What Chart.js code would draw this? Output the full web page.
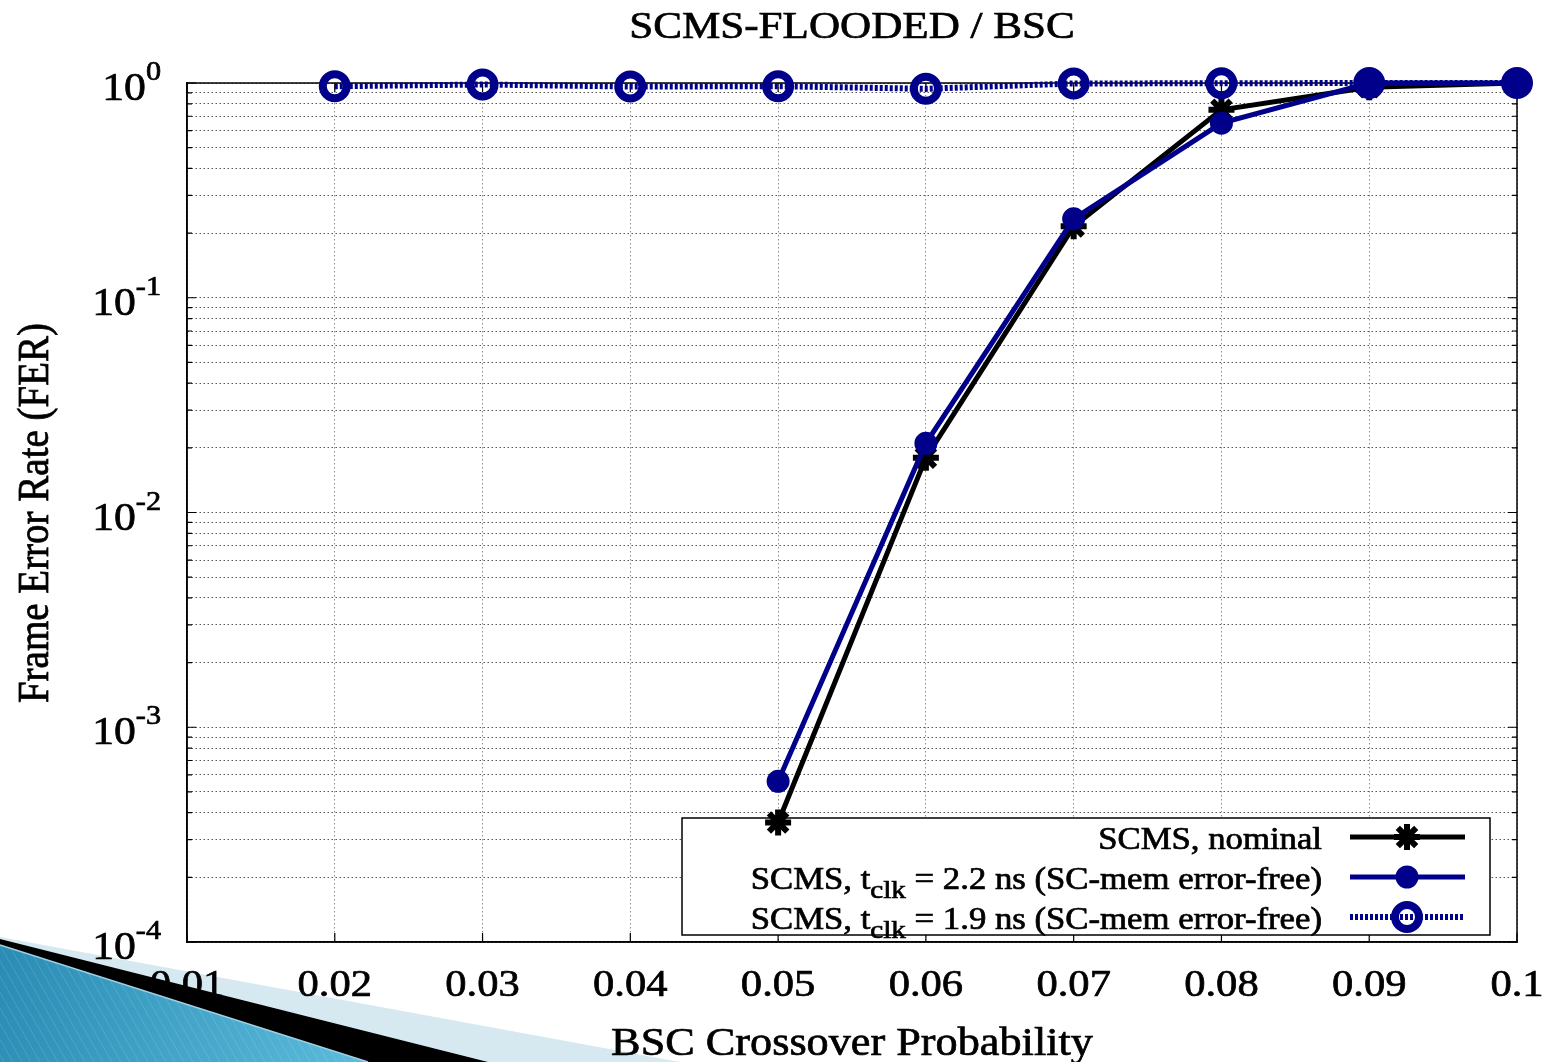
<!DOCTYPE html>
<html>
<head>
<meta charset="utf-8">
<title>SCMS-FLOODED / BSC</title>
<script src="https://cdn.jsdelivr.net/npm/chart.js@4.4.1/dist/chart.umd.min.js"></script>
<style>
  html, body { margin: 0; padding: 0; background: #fff; }
  #wrap { position: relative; width: 1553px; height: 1062px; }
</style>
</head>
<body>
<div id="wrap"><canvas id="ferChart" width="1553" height="1062"></canvas></div>
<script>
// --- donnees ---
const crossover = [0.02, 0.03, 0.04, 0.05, 0.06, 0.07, 0.08, 0.09, 0.1];
const ferNominal = [null, null, null, 3.6e-4, 0.018, 0.215, 0.75, 0.955, 1.0];
const ferClk22 = [null, null, null, 5.6e-4, 0.021, 0.233, 0.65, 1.0, 1.0];
const ferClk19 = [0.966, 0.984, 0.963, 0.966, 0.94, 0.995, 0.997, 1.0, 1.0];

const xTicks = [0.01, 0.02, 0.03, 0.04, 0.05, 0.06, 0.07, 0.08, 0.09, 0.1];
const xTickLabels = ['0.01', '0.02', '0.03', '0.04', '0.05', '0.06', '0.07', '0.08', '0.09', '0.1'];
const yDecades = [0, -1, -2, -3, -4];

const legendLabels = [
  ['SCMS, nominal'],
  ['SCMS, t', 'clk', ' = 2.2 ns (SC-mem error-free)'],
  ['SCMS, t', 'clk', ' = 1.9 ns (SC-mem error-free)']
];

const BLUE = '#00008b';
const SERIF = '"Liberation Serif", "DejaVu Serif", serif';
const SX = 1.12; // la figure d'origine est un peu etiree en largeur

function toPoints(values) {
  const pts = [];
  values.forEach((v, i) => { if (v !== null) pts.push({ x: crossover[i], y: v }); });
  return pts;
}

function textWidth(ctx, s, size) {
  ctx.font = size + 'px ' + SERIF;
  return ctx.measureText(s).width * SX;
}

function drawText(ctx, s, x, y, size, align) {
  ctx.save();
  ctx.font = size + 'px ' + SERIF;
  ctx.textAlign = align || 'left';
  ctx.textBaseline = 'alphabetic';
  ctx.fillStyle = '#000';
  ctx.strokeStyle = '#000';
  ctx.lineWidth = 0.7;
  ctx.translate(x, y);
  ctx.scale(SX, 1);
  ctx.fillText(s, 0, 0);
  ctx.strokeText(s, 0, 0);
  ctx.restore();
}

// decor de diapo en bas a gauche
function slideBack(ctx) {
  ctx.save();
  ctx.fillStyle = '#d6e9f1';
  ctx.beginPath();
  ctx.moveTo(0, 937); ctx.lineTo(680, 1062); ctx.lineTo(0, 1062);
  ctx.closePath(); ctx.fill();
  ctx.restore();
}

function slideFront(ctx) {
  ctx.save();
  ctx.fillStyle = '#000';
  ctx.beginPath();
  ctx.moveTo(0, 939); ctx.lineTo(488, 1062); ctx.lineTo(0, 1062);
  ctx.closePath(); ctx.fill();

  const g = ctx.createLinearGradient(0, 950, 370, 1062);
  g.addColorStop(0, '#2a8cb4');
  g.addColorStop(1, '#5cbcdc');
  ctx.fillStyle = g;
  ctx.beginPath();
  ctx.moveTo(0, 945); ctx.lineTo(368, 1062); ctx.lineTo(0, 1062);
  ctx.closePath(); ctx.fill();
  ctx.clip();
  ctx.strokeStyle = 'rgba(255,255,255,0.13)';
  ctx.lineWidth = 1;
  for (let x = -120; x < 400; x += 9) {
    ctx.beginPath(); ctx.moveTo(x, 940); ctx.lineTo(x + 70, 1062); ctx.stroke();
  }
  ctx.restore();

  ctx.save();
  ctx.strokeStyle = '#9fd2e5';
  ctx.lineWidth = 1.5;
  ctx.beginPath(); ctx.moveTo(0, 945); ctx.lineTo(368, 1062); ctx.stroke();
  ctx.restore();
}

const figurePlugin = {
  id: 'figure',
  beforeDraw(chart) {
    const ctx = chart.ctx;
    ctx.save();
    ctx.fillStyle = '#fff';
    ctx.fillRect(0, 0, chart.width, chart.height);
    ctx.restore();
    slideBack(ctx);
  },
  beforeDatasetsDraw(chart) {
    const ctx = chart.ctx;
    const a = chart.chartArea;
    const ys = chart.scales.y, xs = chart.scales.x;

    // cadre + graduations vers l'interieur
    ctx.save();
    ctx.strokeStyle = '#000';
    ctx.lineWidth = 1.5;
    ctx.strokeRect(a.left, a.top, a.right - a.left, a.bottom - a.top);
    ctx.lineWidth = 1.2;
    ys.ticks.forEach(t => {
      const y = ys.getPixelForValue(t.value);
      const m = Math.round(t.value / Math.pow(10, Math.floor(Math.log10(t.value) + 1e-9)));
      const len = m === 1 ? 9 : 5;
      ctx.beginPath();
      ctx.moveTo(a.left, y); ctx.lineTo(a.left + len, y);
      ctx.moveTo(a.right, y); ctx.lineTo(a.right - len, y);
      ctx.stroke();
    });
    xTicks.forEach(v => {
      const x = xs.getPixelForValue(v);
      ctx.beginPath();
      ctx.moveTo(x, a.bottom); ctx.lineTo(x, a.bottom - 9);
      ctx.moveTo(x, a.top); ctx.lineTo(x, a.top + 9);
      ctx.stroke();
    });
    ctx.restore();

    // cadre de la legende
    ctx.save();
    ctx.fillStyle = '#fff';
    ctx.fillRect(682, 818, 808, 117);
    ctx.strokeStyle = '#000';
    ctx.lineWidth = 1.5;
    ctx.strokeRect(682, 818, 808, 117);
    ctx.restore();

    const rows = [837, 877, 917];
    chart.data.datasets.forEach((ds, i) => {
      const y = rows[i];
      const parts = legendLabels[i];
      // texte aligne a droite, avec indice "clk"
      let total = textWidth(ctx, parts[0], 31);
      if (parts.length > 1) total += textWidth(ctx, parts[1], 26) + textWidth(ctx, parts[2], 31);
      let x = 1322 - total;
      drawText(ctx, parts[0], x, y + 12, 31);
      if (parts.length > 1) {
        x += textWidth(ctx, parts[0], 31);
        drawText(ctx, parts[1], x, y + 21, 26);
        x += textWidth(ctx, parts[1], 26);
        drawText(ctx, parts[2], x, y + 12, 31);
      }
      ctx.save();
      ctx.strokeStyle = ds.borderColor;
      ctx.lineWidth = ds.borderWidth;
      ctx.setLineDash(ds.borderDash || []);
      ctx.beginPath(); ctx.moveTo(1350, y); ctx.lineTo(1465, y); ctx.stroke();
      ctx.setLineDash([]);
      ctx.fillStyle = ds.pointBackgroundColor;
      ctx.strokeStyle = ds.pointBorderColor;
      ctx.lineWidth = ds.pointBorderWidth;
      Chart.helpers.drawPoint(ctx, {
        pointStyle: ds.pointStyle, radius: ds.pointRadius,
        borderWidth: ds.pointBorderWidth, rotation: 0
      }, 1407, y);
      ctx.restore();
    });
  },
  afterDraw(chart) {
    const ctx = chart.ctx;
    const xs = chart.scales.x, ys = chart.scales.y;

    drawText(ctx, 'SCMS-FLOODED / BSC', 852, 38, 38.5, 'center');

    xTicks.forEach((v, i) => {
      drawText(ctx, xTickLabels[i], xs.getPixelForValue(v), 996, 38, 'center');
    });

    yDecades.forEach(e => {
      const y = ys.getPixelForValue(Math.pow(10, e));
      const sup = e === 0 ? '0' : '-' + Math.abs(e);
      const supW = textWidth(ctx, sup, 27);
      const baseW = textWidth(ctx, '10', 39);
      drawText(ctx, sup, 161 - supW, y - 3, 27);
      drawText(ctx, '10', 161 - supW - baseW, y + 17, 39);
    });

    drawText(ctx, 'BSC Crossover Probability', 852, 1055, 39.5, 'center');

    ctx.save();
    ctx.font = '39px ' + SERIF;
    ctx.fillStyle = '#000';
    ctx.strokeStyle = '#000';
    ctx.lineWidth = 0.7;
    ctx.textAlign = 'center';
    ctx.translate(48, 513);
    ctx.rotate(-Math.PI / 2);
    ctx.scale(1, SX);
    ctx.fillText('Frame Error Rate (FER)', 0, 0);
    ctx.strokeText('Frame Error Rate (FER)', 0, 0);
    ctx.restore();

    slideFront(ctx);
  }
};

const ctx = document.getElementById('ferChart');
new Chart(ctx, {
  type: 'line',
  data: {
    datasets: [
      {
        label: 'SCMS, nominal',
        data: toPoints(ferNominal),
        borderColor: '#000',
        borderWidth: 5,
        pointStyle: 'star',
        pointRadius: 13,
        pointBorderWidth: 6,
        pointBackgroundColor: '#000',
        pointBorderColor: '#000',
        order: 3,
        clip: false
      },
      {
        label: 'SCMS, tclk = 2.2 ns (SC-mem error-free)',
        data: toPoints(ferClk22),
        borderColor: BLUE,
        borderWidth: 5,
        pointStyle: 'circle',
        pointRadius: 10,
        pointBorderWidth: 3,
        pointBackgroundColor: BLUE,
        pointBorderColor: BLUE,
        order: 2,
        clip: false
      },
      {
        label: 'SCMS, tclk = 1.9 ns (SC-mem error-free)',
        data: toPoints(ferClk19),
        borderColor: BLUE,
        borderWidth: 6,
        borderDash: [3, 2],
        pointStyle: 'circle',
        pointRadius: 12,
        pointBorderWidth: 8,
        pointBackgroundColor: 'rgba(0,0,0,0)',
        pointBorderColor: BLUE,
        order: 1,
        clip: false
      }
    ]
  },
  options: {
    responsive: false,
    animation: false,
    events: [],
    layout: { padding: { top: 83, right: 36, left: 0, bottom: 0 } },
    plugins: {
      legend: { display: false },
      title: { display: false },
      tooltip: { enabled: false }
    },
    elements: { line: { tension: 0 } },
    scales: {
      x: {
        type: 'linear',
        min: 0.01,
        max: 0.1,
        afterBuildTicks: s => { s.ticks = xTicks.map(v => ({ value: v })); },
        afterFit: s => { s.height = 120; },
        ticks: { display: false },
        grid: { color: '#8a8a8a', lineWidth: 1, drawTicks: false },
        border: { color: '#000', width: 1.5, dash: [1.5, 2.5] }
      },
      y: {
        type: 'logarithmic',
        min: 1e-4,
        max: 1,
        afterBuildTicks: s => {
          const t = [];
          for (let e = -4; e < 0; e++) {
            for (let m = 1; m < 10; m++) t.push({ value: m * Math.pow(10, e) });
          }
          t.push({ value: 1 });
          s.ticks = t;
        },
        afterFit: s => { s.width = 187; },
        ticks: { display: false },
        grid: { color: '#555', lineWidth: 1, drawTicks: false },
        border: { color: '#000', width: 1.5, dash: [1.5, 2.5] }
      }
    }
  },
  plugins: [figurePlugin]
});
</script>
</body>
</html>
